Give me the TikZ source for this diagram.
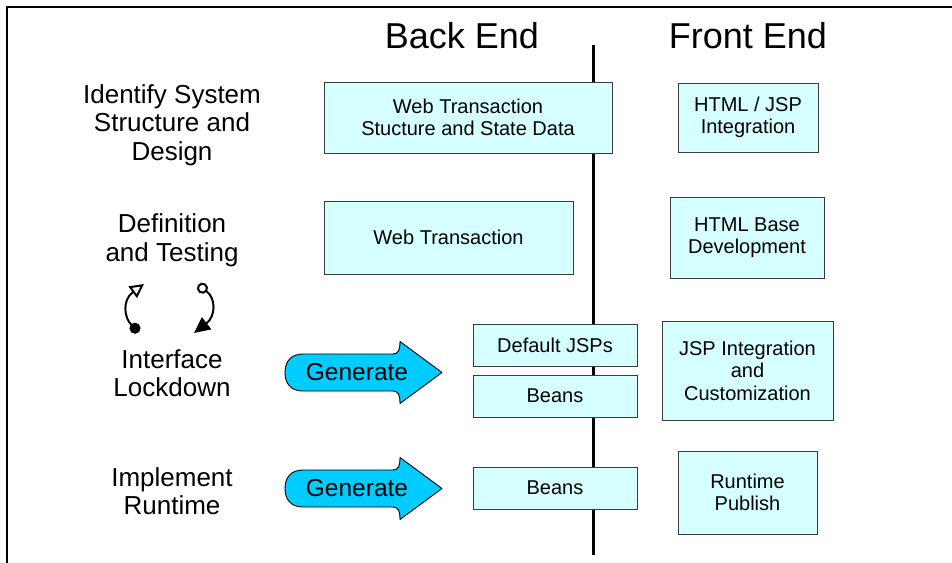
\documentclass[tikz,border=0pt]{standalone}
\usepackage{fontspec}
\setmainfont{Liberation Sans}
\usetikzlibrary{arrows.meta}
\definecolor{boxfill}{HTML}{D6FFFF}
\definecolor{boxline}{HTML}{3A3A3A}
\definecolor{genfill}{HTML}{00CCFF}
\tikzset{
  box/.style={draw=boxline, line width=1pt, fill=boxfill, align=center,
    inner sep=0pt, font=\fontsize{20}{22.5}\selectfont},
  hdr/.style={anchor=base, inner sep=0pt, font=\fontsize{36}{40}\selectfont},
  lbl/.style={align=center, inner sep=0pt, font=\fontsize{26}{28.5}\selectfont},
  gentext/.style={inner sep=0pt, font=\fontsize{24.5}{28}\selectfont},
  genshape/.style={draw=black, line width=0.9pt, fill=genfill, line join=round},
  spine/.style={line width=3pt, black},
  frameline/.style={line width=2pt, black},
  icon/.style={line width=2pt, black},
  genarrow/.pic={
    \path[genshape] (18,18.5) -- (108,18.5) .. controls (113,18.5) and (115,22) .. (115,31)
      -- (157,0) -- (115,-31) .. controls (115,-22) and (113,-18.5) .. (108,-18.5)
      -- (18,-18.5) .. controls (5,-18.5) and (0,-10) .. (0,0)
      .. controls (0,10) and (5,18.5) .. (18,18.5) -- cycle;
  }
}
\begin{document}
\begin{tikzpicture}[x=1pt, y=1pt]
\useasboundingbox (0,0) rectangle (952,-562);

% open frame: left and top edges
\coordinate (fbl) at (7,-565);
\coordinate (ftl) at (7,-7);
\coordinate (ftr) at (955,-7);
\draw[frameline] (fbl) -- (ftl) -- (ftr);

% divider between back end and front end
\coordinate (vtop) at (593,-45);
\coordinate (vbot) at (593,-555);
\draw[spine] (vtop) -- (vbot);

% column headers
\node[hdr] (back) at (462,-48) {Back End};
\node[hdr] (front) at (748,-48) {Front End};

% phase labels
\node[lbl] (phase1) at (172,-125) {Identify System\\Structure and\\Design};
\node[lbl] (phase2) at (172,-240.5) {Definition\\and Testing};
\node[lbl] (phase3) at (172,-373) {Interface\\Lockdown};
\node[lbl] (phase4) at (172,-491) {Implement\\Runtime};

% iteration icon
\draw[icon, {Circle[length=11pt]}-{Triangle[open, length=14pt, width=14pt]}]
  (139,-332) .. controls (124,-318) and (122,-300) .. (144,-284);
\draw[icon, {Circle[open, length=11pt]}-{Triangle[length=16pt, width=15pt]}]
  (198,-285) .. controls (216,-298) and (216,-316) .. (194,-333);

% back end boxes
\node[box, minimum width=288pt, minimum height=71pt] (wtsd) at (468,-117.5)
  {Web Transaction\\Stucture and State Data};
\node[box, minimum width=249pt, minimum height=73pt] (wt) at (448.5,-237.5)
  {Web Transaction};
\node[box, minimum width=164pt, minimum height=42pt] (djsp) at (555,-345)
  {Default JSPs};
\node[box, minimum width=164pt, minimum height=42pt] (beans1) at (555,-396)
  {Beans};
\node[box, minimum width=164pt, minimum height=42pt] (beans2) at (555,-488)
  {Beans};

% front end boxes
\node[box, minimum width=140pt, minimum height=69pt] (hjsp) at (748,-117.5)
  {HTML / JSP\\Integration};
\node[box, minimum width=154pt, minimum height=81pt] (hbase) at (747,-237.5)
  {HTML Base\\Development};
\node[box, minimum width=171pt, minimum height=99pt] (jspint) at (747.5,-370.5)
  {JSP Integration\\and\\Customization};
\node[box, minimum width=139pt, minimum height=83pt] (rpub) at (747.5,-492.5)
  {Runtime\\Publish};

% generate arrows
\pic at (285,-372.5) {genarrow};
\node[gentext] (gen1) at (357,-372) {Generate};
\pic at (285,-488.5) {genarrow};
\node[gentext] (gen2) at (357,-488) {Generate};
\end{tikzpicture}
\end{document}
